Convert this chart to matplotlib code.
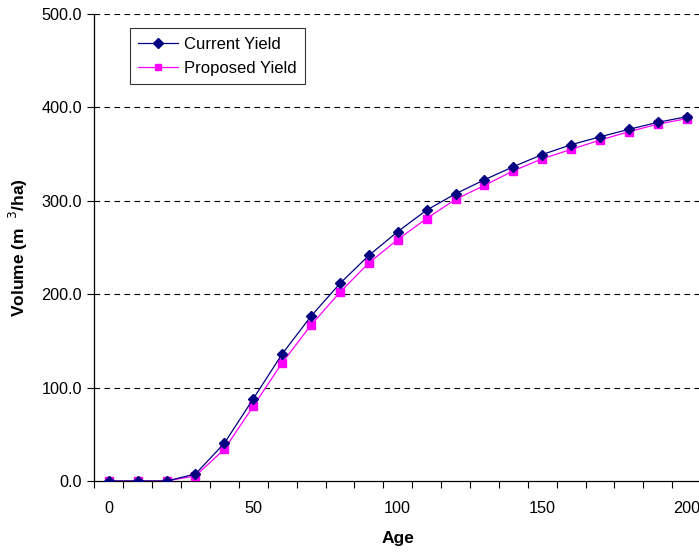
import matplotlib
matplotlib.use("Agg")
import matplotlib.pyplot as plt
from matplotlib.ticker import FixedLocator, FuncFormatter

plt.rcParams['font.family'] = ['Liberation Sans', 'DejaVu Sans']

age = [0, 10, 20, 30, 40, 50, 60, 70, 80, 90, 100,
       110, 120, 130, 140, 150, 160, 170, 180, 190, 200]
current_yield = [0.0, 0.0, 0.0, 7.5, 40.5, 88.0, 136.0, 176.5, 211.5, 241.5, 267.0,
                 290.0, 307.5, 322.5, 336.5, 349.5, 360.0, 368.5, 376.5, 384.0, 390.0]
proposed_yield = [0.0, 0.0, 0.0, 5.5, 34.0, 80.0, 126.5, 167.0, 202.0, 233.5, 258.5,
                  281.0, 301.5, 316.5, 332.0, 345.0, 355.0, 365.0, 374.0, 382.0, 388.0]
x_tick_labels = [0, 50, 100, 150, 200]
y_ticks = [0, 100, 200, 300, 400, 500]

fig = plt.figure(figsize=(6.99, 5.53), dpi=100)
ax = fig.add_axes([0.135, 0.1302, 0.868, 0.8445])

ax.plot(age, current_yield, color='#000080', lw=0.9, marker='D', ms=5.3,
        label='Current Yield', zorder=4)
ax.plot(age, proposed_yield, color='#FF00FF', lw=0.9, marker='s', ms=5.3,
        label='Proposed Yield', zorder=3)

ax.set_xlim(-5, 205)
ax.set_ylim(0, 500)

ax.xaxis.set_major_locator(FixedLocator(x_tick_labels))
ax.xaxis.set_minor_locator(FixedLocator([a - 5 for a in age] + [age[-1] + 5]))
ax.tick_params(axis='x', which='major', length=0, pad=14.5, labelsize=11.7)
ax.tick_params(axis='x', which='minor', length=5, width=0.8, direction='out')

ax.yaxis.set_major_locator(FixedLocator(y_ticks))
ax.yaxis.set_major_formatter(FuncFormatter(lambda v, p: f"{v:.1f}"))
ax.tick_params(axis='y', which='major', length=5, width=0.8, direction='out',
               labelsize=11.7, pad=4)

for v in y_ticks[1:]:
    ax.axhline(v, color='black', lw=0.8, ls=(0, (5, 4)), zorder=1)

for side in ('top', 'right'):
    ax.spines[side].set_visible(False)
for side in ('left', 'bottom'):
    ax.spines[side].set_linewidth(0.9)

ax.set_xlabel('Age', fontsize=12.5, fontweight='bold', labelpad=11)
ax.set_ylabel(r'Volume (m  $^{3}$/ha)', fontsize=12.5, fontweight='bold', labelpad=8)

leg = ax.legend(loc='upper left', bbox_to_anchor=(0.059, 0.969), borderaxespad=0,
                frameon=True, fancybox=False, edgecolor='black', fontsize=12,
                handlelength=2.4, borderpad=0.5, labelspacing=0.55, handletextpad=0.35,
                markerscale=0.9)
leg.get_frame().set_linewidth(0.8)

fig.savefig('out.png', dpi=100)
